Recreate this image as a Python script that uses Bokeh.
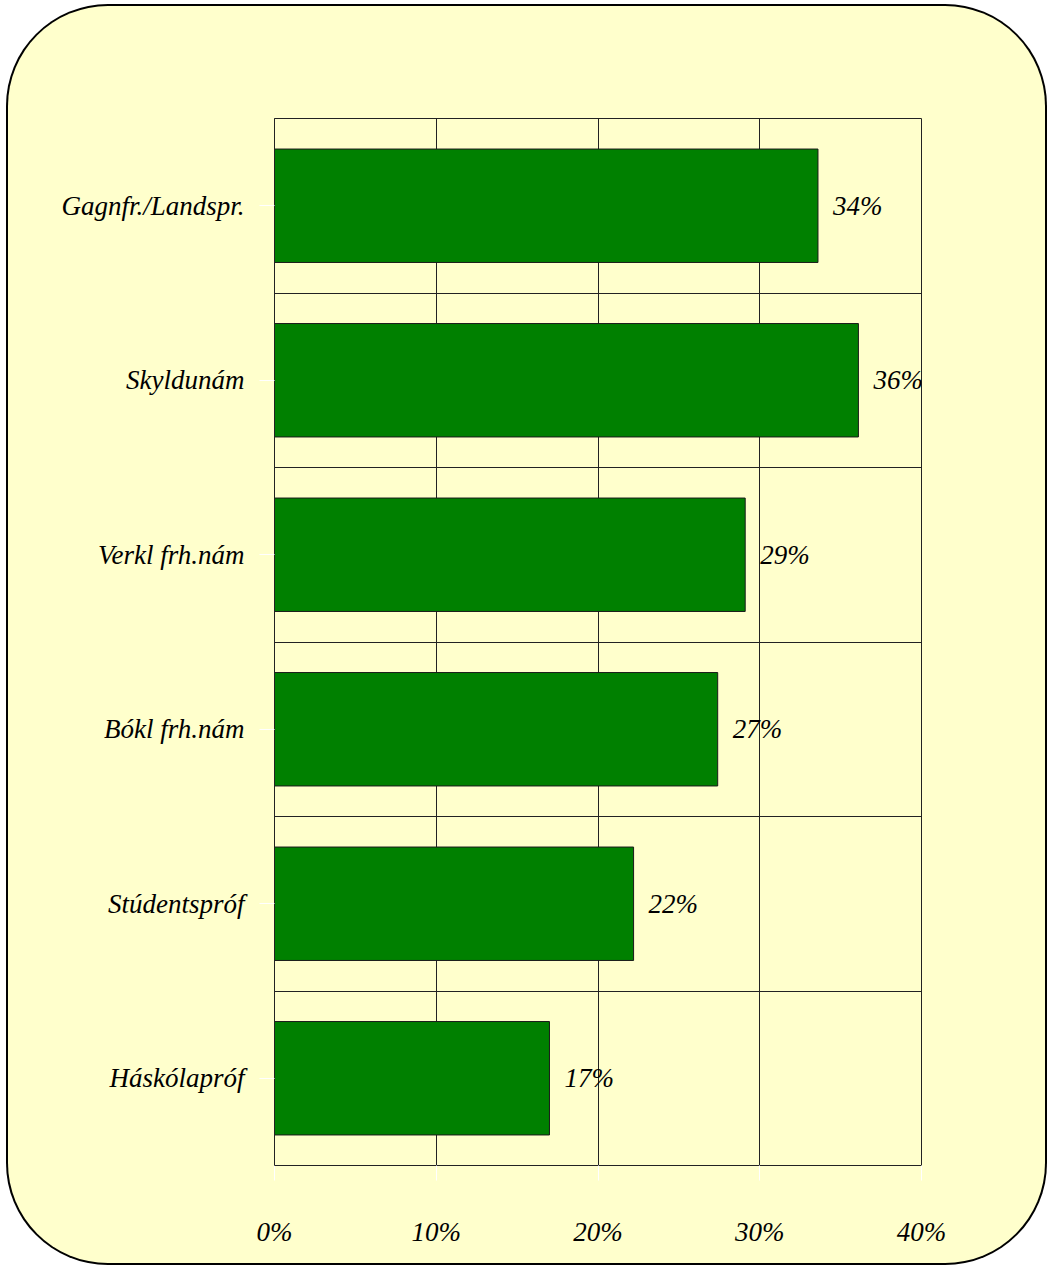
from bokeh.plotting import figure
from bokeh.models import ColumnDataSource, FixedTicker, LabelSet, Range1d, PrintfTickFormatter
from bokeh.core.properties import value
from bokeh.embed import file_html
from bokeh.resources import INLINE

# ---- data ----
categories = ["Gagnfr./Landspr.", "Skyldunám", "Verkl frh.nám",
              "Bókl frh.nám", "Stúdentspróf", "Háskólapróf"]
values = [33.6, 36.1, 29.1, 27.4, 22.2, 17.0]
value_labels = ["34%", "36%", "29%", "27%", "22%", "17%"]
x_ticks = [0, 10, 20, 30, 40]

n = len(categories)
ypos = [n - i - 0.5 for i in range(n)]
src = ColumnDataSource(dict(y=ypos, v=values, lab=value_labels, cat=categories))

FONT = value("Liberation Serif")
BG = "#FFFFCC"
FS = "27px"

p = figure(width=1037, height=1257, output_backend="svg", toolbar_location=None,
           x_range=Range1d(0, 40), y_range=Range1d(0, n),
           min_border_left=266, min_border_right=124,
           min_border_top=112, min_border_bottom=98,
           background_fill_color=BG, border_fill_alpha=0,
           outline_line_color="#222222", outline_line_width=1,
           styles={"background-color": BG, "border-radius": "100px",
                   "box-shadow": "0 0 0 2px black",
                   "position": "relative", "left": "8px", "top": "6px"})

p.hbar(y="y", right="v", left=0, height=0.65, source=src,
       fill_color="#008000", line_color="#1a1a1a", line_width=1)

p.add_layout(LabelSet(x="v", y="y", text="lab", source=src, x_offset=15,
                      text_baseline="middle", text_align="left",
                      text_font=FONT, text_font_style="italic",
                      text_font_size=FS, text_color="black"))

# x axis
p.xaxis.ticker = FixedTicker(ticks=x_ticks)
p.xaxis.formatter = PrintfTickFormatter(format="%d%%")
p.xaxis.major_tick_line_color = "white"
p.xaxis.major_tick_out = 15
p.xaxis.major_tick_in = 0
p.xaxis.minor_tick_line_color = None
p.xaxis.axis_line_color = "#222222"
p.xaxis.major_label_standoff = 36
p.xaxis.major_label_text_font = "Liberation Serif"
p.xaxis.major_label_text_font_style = "italic"
p.xaxis.major_label_text_font_size = FS
p.xaxis.major_label_text_color = "black"

# y axis
p.yaxis.ticker = FixedTicker(ticks=ypos)
p.yaxis.major_label_overrides = {y: c for y, c in zip(ypos, categories)}
p.yaxis.major_tick_line_color = "white"
p.yaxis.major_tick_out = 15
p.yaxis.major_tick_in = 0
p.yaxis.minor_tick_line_color = None
p.yaxis.axis_line_color = "#222222"
p.yaxis.major_label_standoff = 15
p.yaxis.major_label_text_font = "Liberation Serif"
p.yaxis.major_label_text_font_style = "italic"
p.yaxis.major_label_text_font_size = FS
p.yaxis.major_label_text_color = "black"

# grids
p.xgrid.ticker = FixedTicker(ticks=x_ticks)
p.xgrid.grid_line_color = "#222222"
p.xgrid.grid_line_width = 1
p.ygrid.ticker = FixedTicker(ticks=list(range(1, n)))
p.ygrid.grid_line_color = "#222222"
p.ygrid.grid_line_width = 1

open("out.html", "w").write(file_html(p, INLINE))
